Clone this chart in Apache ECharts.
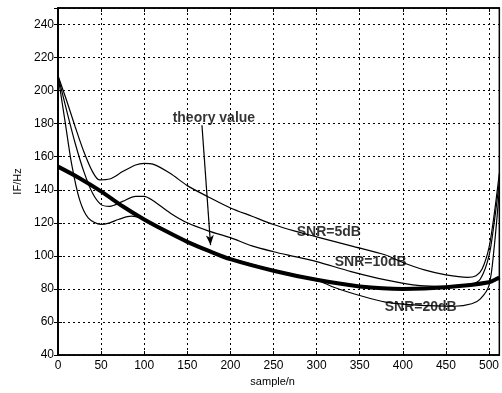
<!DOCTYPE html>
<html>
<head>
<meta charset="utf-8">
<script src="https://cdn.jsdelivr.net/npm/echarts@6/dist/echarts.min.js"></script>
<style>
  html, body { margin: 0; padding: 0; background: #fff; }
  #chart { width: 502px; height: 393px; }
</style>
</head>
<body>
<div id="chart"></div>
<script>
// values
const theoryX = [0, 25, 50, 75, 100, 125, 150, 175, 200, 250, 300, 350, 400, 450, 500, 512];
const theoryY = [154, 147, 139, 130, 122, 115, 108.5, 103, 98, 91, 85.5, 81.5, 80, 81, 84, 87];

const snr5X = [0, 10, 20, 30, 40, 48, 60, 75, 90, 100, 110, 130, 150, 175, 200, 225, 250, 275, 300, 340, 380, 400, 425, 450, 475, 485, 492, 500, 506, 512];
const snr5Y = [209, 194, 178, 163, 151, 146, 146.5, 151, 155, 156, 155.5, 150, 142.5, 135.5, 129, 124, 119, 115, 111.5, 106, 100.5, 96, 91.5, 88.5, 87, 88, 92, 105, 125, 150];

const snr10X = [0, 10, 20, 30, 40, 50, 60, 75, 90, 100, 110, 130, 150, 175, 200, 225, 250, 275, 300, 340, 380, 420, 450, 480, 490, 500, 506, 512];
const snr10Y = [209, 188, 168, 151, 138, 131, 130, 133, 136, 136, 133.5, 126, 120, 115, 111, 106, 102.5, 99.5, 96.5, 90.5, 85.5, 82, 81.5, 83, 86, 100, 120, 145];

const snr20X = [0, 8, 16, 25, 35, 50, 60, 70, 85, 100, 125, 150, 175, 200, 250, 300, 320, 350, 380, 420, 460, 480, 490, 500, 506, 512];
const snr20Y = [209, 182, 155, 134, 123, 119, 120, 122, 124, 122, 115.5, 109, 103.5, 98.5, 91.5, 85.5, 81, 76, 72, 70, 69.5, 71, 74, 82, 105, 140];

// annotation texts and where they sit (data coords)
const labelTexts = ["SNR=5dB", "SNR=10dB", "SNR=20dB"];
const labelPos = [[277, 114.5], [321, 96], [379, 69]];
const theoryLabelPos = [133, 183.5];
const arrowFrom = [167, 179];
const arrowTo = [177, 106.5];

const zip = (xs, ys) => xs.map((x, i) => [x, ys[i]]);
const font = "Liberation Sans, Arial, sans-serif";

const chart = echarts.init(document.getElementById("chart"));

const axisCommon = {
  axisLine: { show: true, lineStyle: { color: "#000", width: 1.5 } },
  axisTick: { show: true, inside: true, length: 4, lineStyle: { color: "#000" } },
  axisLabel: { color: "#000", fontSize: 12, fontFamily: font, showMaxLabel: false },
  splitLine: { show: true, lineStyle: { color: "#000", type: [2, 3], width: 1 } },
};

const thin = (name, xs, ys) => ({
  name,
  type: "line",
  data: zip(xs, ys),
  smooth: 0.3,
  showSymbol: false,
  lineStyle: { color: "#000", width: 1.2 },
  z: 3,
});

chart.setOption({
  animation: false,
  backgroundColor: "#fff",
  grid: { left: 58, right: 2.5, top: 8, bottom: 38, show: true, borderColor: "#000", borderWidth: 1.5 },
  xAxis: [
    {
      ...axisCommon,
      type: "value",
      min: 0,
      max: 512,
      interval: 50,
      name: "sample/n",
      nameLocation: "middle",
      nameGap: 20,
      nameTextStyle: { color: "#000", fontSize: 11, fontFamily: font, padding: [0, 12, 0, 0] },
      axisLabel: { ...axisCommon.axisLabel, margin: 5 },
    },
    {
      type: "value",
      position: "top",
      min: 0,
      max: 512,
      interval: 50,
      axisLine: { show: true, lineStyle: { color: "#000", width: 1.5 } },
      axisTick: { show: true, inside: true, length: 4, lineStyle: { color: "#000" } },
      axisLabel: { show: false },
      splitLine: { show: false },
    },
  ],
  yAxis: [
    {
      ...axisCommon,
      type: "value",
      min: 40,
      max: 250,
      interval: 20,
      name: "IF/Hz",
      nameLocation: "middle",
      nameGap: 31,
      nameTextStyle: { color: "#000", fontSize: 11, fontFamily: font },
      axisLabel: { ...axisCommon.axisLabel, margin: 4 },
    },
    {
      type: "value",
      position: "right",
      min: 40,
      max: 250,
      interval: 20,
      axisLine: { show: true, lineStyle: { color: "#000", width: 1.5 } },
      axisTick: { show: true, inside: true, length: 4, lineStyle: { color: "#000" } },
      axisLabel: { show: false },
      splitLine: { show: false },
    },
  ],
  series: [
    {
      name: "theory",
      type: "line",
      data: zip(theoryX, theoryY),
      smooth: 0.3,
      showSymbol: false,
      lineStyle: { color: "#000", width: 4 },
      z: 4,
      markLine: {
        silent: true,
        symbol: ["none", "arrow"],
        symbolSize: [6, 10],
        label: { show: false },
        lineStyle: { color: "#000", width: 1.2, type: "solid" },
        data: [[{ coord: arrowFrom }, { coord: arrowTo }]],
      },
    },
    thin("SNR=5dB", snr5X, snr5Y),
    thin("SNR=10dB", snr10X, snr10Y),
    thin("SNR=20dB", snr20X, snr20Y),
    {
      name: "labels",
      type: "scatter",
      symbolSize: 0,
      z: 6,
      data: labelPos.map((p, i) => ({ value: p, name: labelTexts[i] })),
      label: {
        show: true,
        position: "right",
        distance: 0,
        formatter: (p) => p.name,
        color: "#000",
        fontSize: 14,
        fontWeight: "bold",
        fontFamily: font,
      },
    },
    {
      name: "theoryLabel",
      type: "scatter",
      symbolSize: 0,
      z: 6,
      data: [{ value: theoryLabelPos, name: "theory value" }],
      label: {
        show: true,
        position: "right",
        distance: 0,
        formatter: (p) => p.name,
        color: "#000",
        fontSize: 14,
        fontWeight: "bold",
        fontFamily: font,
      },
    },
  ],
});
</script>
</body>
</html>
